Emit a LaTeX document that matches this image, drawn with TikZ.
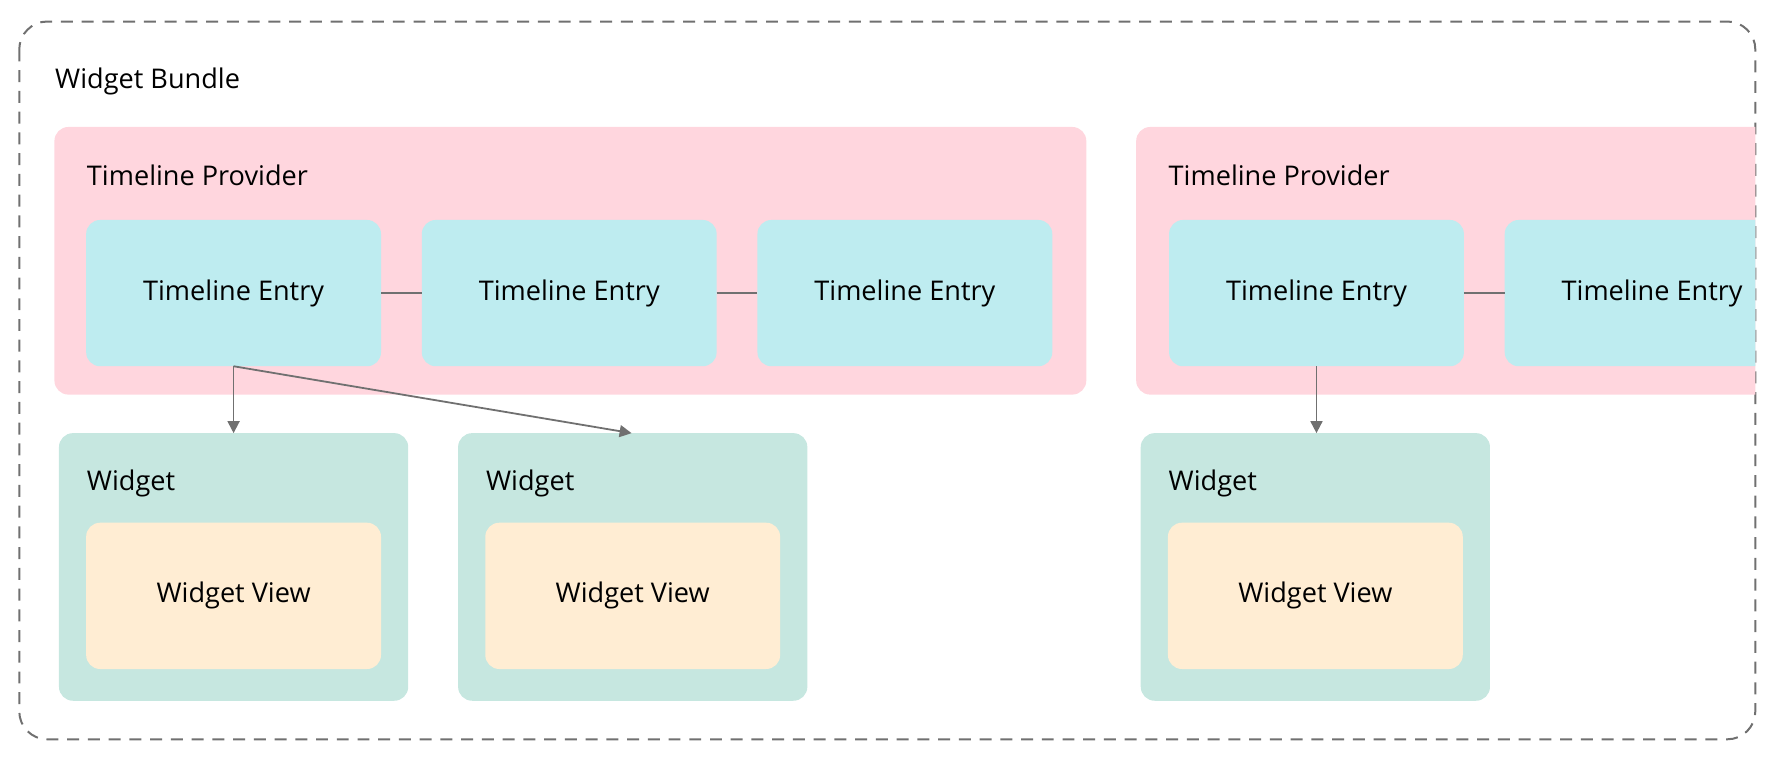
\documentclass[tikz,border=0pt]{standalone}
\usepackage{fontspec}
\setmainfont{Open Sans}
\usetikzlibrary{arrows.meta}
\definecolor{pinkbg}{HTML}{FFD6DE}
\definecolor{cyanbg}{HTML}{BEECF0}
\definecolor{greenbg}{HTML}{C6E7E0}
\definecolor{yellowbg}{HTML}{FFEDD3}
\definecolor{linec}{HTML}{707070}
\begin{document}
\begin{tikzpicture}[x=0.01cm,y=-0.01cm,
  lbl/.style={font=\fontsize{6.8}{8}\selectfont, text=black, inner sep=0},
  conn/.style={draw=linec, line width=0.45pt},
  arr/.style={conn, -{Triangle[length=3pt,width=3pt]}}]
\useasboundingbox (0,0) rectangle (1568,674);
\draw[linec, line width=0.5pt, dash pattern=on 3pt off 2.2pt, rounded corners=7pt] (17,19) rectangle (1548,652);
\node[lbl, anchor=west] (bundle) at (48,72) {Widget Bundle};
% left provider
\fill[pinkbg, rounded corners=3.5pt] (48,112) rectangle (958,348);
\node[lbl, anchor=west] (tp1) at (76,155) {Timeline Provider};
\foreach \n/\x in {e1/76, e2/372, e3/668}{
  \fill[cyanbg, rounded corners=3.5pt] (\x,194) rectangle ++(260,129);
  \node[lbl] (\n) at (\x+130,258.5) {Timeline Entry};
  \coordinate (\n W) at (\x,258.5);
  \coordinate (\n E) at (\x+260,258.5);
  \coordinate (\n B) at (\x+130,323);
}
% right provider (clipped)
\begin{scope}
\clip (0,0) rectangle (1548,674);
\fill[pinkbg, rounded corners=3.5pt] (1002,112) rectangle (1600,348);
\fill[cyanbg, rounded corners=3.5pt] (1031,194) rectangle ++(260,129);
\fill[cyanbg, rounded corners=3.5pt] (1327,194) rectangle ++(260,129);
\end{scope}
\node[lbl, anchor=west] (tp2) at (1030,155) {Timeline Provider};
\node[lbl] (e4) at (1161,258.5) {Timeline Entry};
\node[lbl] (e5) at (1457,258.5) {Timeline Entry};
\coordinate (e4E) at (1291,258.5);
\coordinate (e5W) at (1327,258.5);
\coordinate (e4B) at (1161,323);
% widgets
\foreach \n/\x in {w1/52, w2/404, w3/1006}{
  \fill[greenbg, rounded corners=3.5pt] (\x,382) rectangle ++(308,236);
  \node[lbl, anchor=west] at (\x+24,426) {Widget};
  \fill[yellowbg, rounded corners=3.5pt] (\x+24,461) rectangle ++(260,129);
  \node[lbl] at (\x+154,525) {Widget View};
}
\coordinate (w1T) at (206,382);
\coordinate (w2T) at (557,382);
\coordinate (w3T) at (1161,382);
\draw[conn] (e1E) -- (e2W);
\draw[conn] (e2E) -- (e3W);
\draw[conn] (e4E) -- (e5W);
\draw[arr] (e1B) -- (w1T);
\draw[arr] (e1B) -- (w2T);
\draw[arr] (e4B) -- (w3T);
\end{tikzpicture}
\end{document}
